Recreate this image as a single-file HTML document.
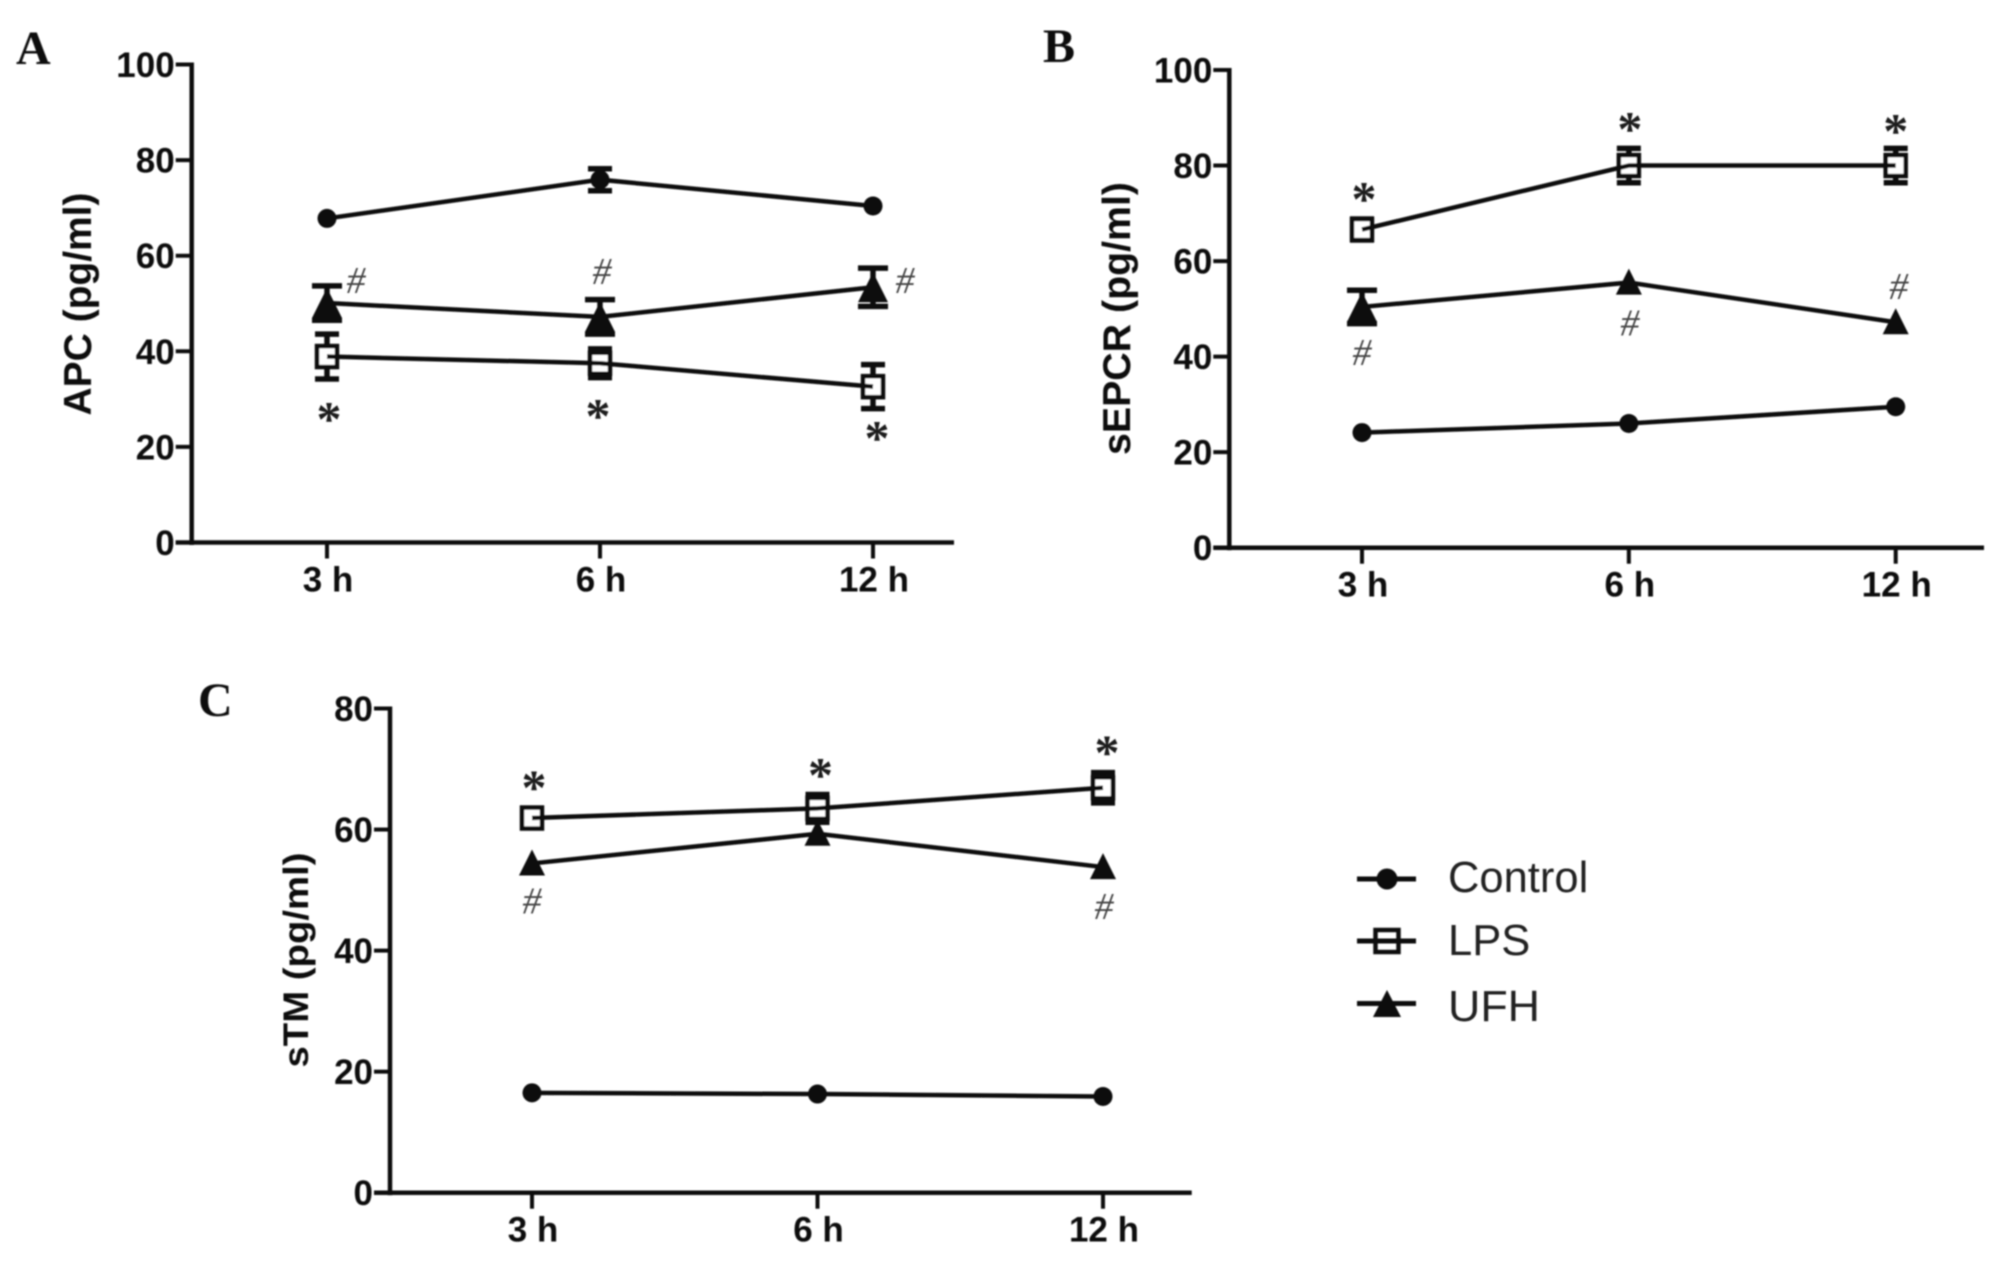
<!DOCTYPE html>
<html lang="en">
<head>
<meta charset="utf-8">
<title>APC, sEPCR and sTM levels</title>
<style>
html,body{margin:0;padding:0;background:#fff;}
#figure{display:block;width:2008px;height:1276px;background:#fff;}
text{font-family:"Liberation Sans",sans-serif;fill:#111;}
.tick{font-size:35px;font-weight:bold;}
.title{font-size:39px;font-weight:bold;}
.letter{font-family:"Liberation Serif",serif;font-size:48px;font-weight:bold;}
.star{font-family:"Liberation Serif",serif;font-size:50px;font-weight:bold;fill:#1a1a1a;}
.hash{font-family:"Liberation Serif",serif;font-size:38px;fill:#444;font-style:italic;}
.legend{font-size:43.5px;fill:#222;}
</style>
</head>
<body>
<svg id="figure" xmlns="http://www.w3.org/2000/svg" width="2008" height="1276" viewBox="0 0 2008 1276">
  <defs><filter id="soft" x="-2%" y="-2%" width="104%" height="104%"><feGaussianBlur stdDeviation="0.7"/></filter></defs>
  <g id="root" filter="url(#soft)">
    <text class="letter" x="16" y="64">A</text>
    <text class="letter" x="1043" y="62">B</text>
    <text class="letter" x="198" y="716">C</text>

    <g>
      <g>
        <line x1="1357" x2="1416" y1="879" y2="879" stroke="#111" stroke-width="5"/>
        <circle cx="1387" cy="879" r="10.5" fill="#111"/>
        <text class="legend" x="1448" y="892">Control</text>
      </g>
      <g>
        <line x1="1357" x2="1416" y1="941" y2="941" stroke="#111" stroke-width="5"/>
        <rect x="1375.5" y="930" width="23" height="22" fill="none" stroke="#111" stroke-width="4.5"/>
        <text class="legend" x="1448" y="955">LPS</text>
      </g>
      <g>
        <line x1="1357" x2="1416" y1="1003.5" y2="1003.5" stroke="#111" stroke-width="5"/>
        <polygon points="1387,990 1401,1017 1373,1017" fill="#111"/>
        <text class="legend" x="1448" y="1021" textLength="92" lengthAdjust="spacingAndGlyphs">UFH</text>
      </g>
    </g>
  </g>
</svg>
<script>
const categories = ['3 h', '6 h', '12 h'];

const apcTicks = [0, 20, 40, 60, 80, 100];
const apcControl = [67.8, 75.9, 70.4];
const apcControlErr = [0, 2.3, 0];
const apcLps = [38.9, 37.5, 32.6];
const apcLpsErr = [4.7, 3, 4.6];
const apcUfh = [50.1, 47.2, 53.4];
const apcUfhErr = [3.6, 3.6, 4];

const sepcrTicks = [0, 20, 40, 60, 80, 100];
const sepcrControl = [24.1, 26, 29.5];
const sepcrControlErr = [0, 0, 0];
const sepcrLps = [66.6, 80, 80];
const sepcrLpsErr = [2.2, 3.6, 3.6];
const sepcrUfh = [50.4, 55.5, 47.2];
const sepcrUfhErr = [3.5, 0, 0];

const stmTicks = [0, 20, 40, 60, 80];
const stmControl = [16.5, 16.3, 15.9];
const stmControlErr = [0, 0, 0];
const stmLps = [61.9, 63.5, 66.9];
const stmLpsErr = [0, 2.3, 2.5];
const stmUfh = [54.4, 59.3, 53.8];
const stmUfhErr = [0, 0, 0];

const NS = 'http://www.w3.org/2000/svg';
const root = document.getElementById('root');

function make(parent, tag, attrs, text) {
  const el = document.createElementNS(NS, tag);
  for (const k in attrs) el.setAttribute(k, attrs[k]);
  if (text !== undefined) el.textContent = text;
  parent.appendChild(el);
  return el;
}

function drawPanel(p) {
  const g = make(root, 'g', {});
  
  

  const yScale = v => p.y0 - (v - p.ticks[0]) * (p.y0 - p.yTop) / (p.ticks[p.ticks.length - 1] - p.ticks[0]);
  const xScale = i => p.xFirst + i * (p.xLast - p.xFirst) / (categories.length - 1);

  // y axis
  const yAxis = make(g, 'line', {x1: p.axisX, x2: p.axisX, y1: p.yTop - 2, y2: p.y0 + 2.5, stroke: '#111', 'stroke-width': 4.5});
  
  
  // x axis
  const xAxis = make(g, 'line', {x1: p.axisX - 16, x2: p.axisEnd, y1: p.y0, y2: p.y0, stroke: '#111', 'stroke-width': 4.5});
  
  

  p.ticks.forEach(t => {
    const y = yScale(t);
    const tick = make(g, 'line', {x1: p.axisX - 16, x2: p.axisX, y1: y, y2: y, stroke: '#111', 'stroke-width': 4});
    
    
    const label = make(g, 'text', {class: 'tick', x: p.axisX - 17, y: y + 12.5, 'text-anchor': 'end'}, String(t));
    
    
  });

  categories.forEach((c, i) => {
    const x = xScale(i);
    const tick = make(g, 'line', {x1: x, x2: x, y1: p.y0, y2: p.y0 + 16, stroke: '#111', 'stroke-width': 4});
    
    
    const label = make(g, 'text', {class: 'tick', x: x + 1, y: p.y0 + 49, 'text-anchor': 'middle'}, c);
    
    
  });

  const title = make(g, 'text', {class: 'title', 'text-anchor': 'middle',
    transform: 'translate(' + p.titleX + ' ' + p.titleY + ') rotate(-90)',
    textLength: p.titleLen, lengthAdjust: 'spacingAndGlyphs', style: 'font-size:' + p.titleSize + 'px'}, p.title);
  
  

  function drawSeries(name, values, errs, marker, cap) {
    const s = make(g, 'g', {});
    
    

    values.forEach((v, i) => {
      if (!errs[i]) return;
      const x = xScale(i), top = yScale(v + errs[i]), bot = yScale(v - errs[i]);
      const bar = make(s, 'path', {d: 'M' + x + ' ' + top + 'V' + bot + 'M' + (x - cap) + ' ' + top + 'H' + (x + cap) + 'M' + (x - cap) + ' ' + bot + 'H' + (x + cap),
        stroke: '#111', 'stroke-width': 5.5, fill: 'none'});
      
      
    });

    values.forEach((v, i) => {
      const x = xScale(i), y = yScale(v);
      let m;
      if (marker === 'square') {
        m = make(s, 'rect', {x: x - 10, y: y - 10.5, width: 20, height: 21, fill: '#fff', stroke: '#111', 'stroke-width': 4.5});
      }
      if (m) {
        
        
      }
    });

    const pts = values.map((v, i) => xScale(i) + ',' + yScale(v)).join(' ');
    const line = make(s, 'polyline', {points: pts, fill: 'none', stroke: '#111', 'stroke-width': 4.5});
    
    

    values.forEach((v, i) => {
      const x = xScale(i), y = yScale(v);
      let m;
      if (marker === 'circle') {
        m = make(s, 'circle', {cx: x, cy: y, r: 9.5, fill: '#111'});
      } else if (marker === 'triangle') {
        const hw = errs[i] ? 15 : 13, up = errs[i] ? 15 : 14, down = errs[i] ? 15 : 12;
        m = make(s, 'polygon', {points: x + ',' + (y - up) + ' ' + (x + hw) + ',' + (y + down) + ' ' + (x - hw) + ',' + (y + down), fill: '#111'});
      }
      if (m) {
        
        
      }
    });
  }

  drawSeries('control', p.control, p.controlErr, 'circle', 12);
  drawSeries('lps', p.lps, p.lpsErr, 'square', 12);
  drawSeries('ufh', p.ufh, p.ufhErr, 'triangle', 15);

  categories.forEach((c, i) => {
    const sx = xScale(i) + p.starDx[i], sy = yScale(p.lps[i]) + p.starDy[i];
    const star = make(g, 'text', {class: 'star', x: sx, y: sy + 22, 'text-anchor': 'middle'}, '*');
    
    
    if (p.hashDy[i] !== null) {
      const hx = xScale(i) + p.hashDx[i], hy = yScale(p.ufh[i]) + p.hashDy[i];
      const hash = make(g, 'text', {class: 'hash', x: hx, y: hy + 12, 'text-anchor': 'middle'}, '#');
      
      
    }
  });
}

drawPanel({
  id: 'apc', title: 'APC (pg/ml)', ticks: apcTicks,
  control: apcControl, controlErr: apcControlErr, lps: apcLps, lpsErr: apcLpsErr, ufh: apcUfh, ufhErr: apcUfhErr,
  axisX: 191.7, axisEnd: 954, y0: 542.5, yTop: 64.5, xFirst: 327, xLast: 873,
  titleX: 91, titleY: 304, titleLen: 223, titleSize: 39,
  starDx: [2, -2, 4], starDy: [57, 47, 46], hashDx: [29, 2, 32], hashDy: [-22, -45, -6]
});
drawPanel({
  id: 'sepcr', title: 'sEPCR (pg/ml)', ticks: sepcrTicks,
  control: sepcrControl, controlErr: sepcrControlErr, lps: sepcrLps, lpsErr: sepcrLpsErr, ufh: sepcrUfh, ufhErr: sepcrUfhErr,
  axisX: 1229.3, axisEnd: 1984, y0: 547.7, yTop: 70, xFirst: 1362, xLast: 1895.7,
  titleX: 1130, titleY: 318.5, titleLen: 273, titleSize: 39,
  starDx: [2, 1, 0], starDy: [-36, -42, -40], hashDx: [0, 1, 3], hashDy: [46, 41, -35]
});
drawPanel({
  id: 'stm', title: 'sTM (pg/ml)', ticks: stmTicks,
  control: stmControl, controlErr: stmControlErr, lps: stmLps, lpsErr: stmLpsErr, ufh: stmUfh, ufhErr: stmUfhErr,
  axisX: 390, axisEnd: 1191.7, y0: 1192.7, yTop: 708.5, xFirst: 532, xLast: 1103,
  titleX: 308, titleY: 960, titleLen: 215, titleSize: 35,
  starDx: [2, 3, 4], starDy: [-36, -39, -41], hashDx: [0, 0, 1], hashDy: [38, null, 40]
});
</script>
</body>
</html>
